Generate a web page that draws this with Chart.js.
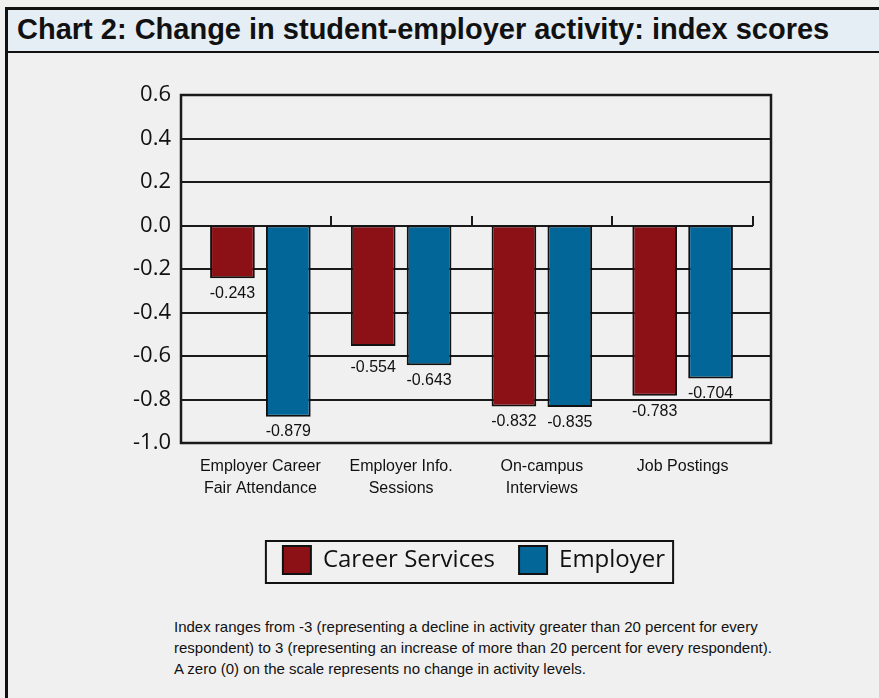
<!DOCTYPE html>
<html>
<head>
<meta charset="utf-8">
<script src="https://cdn.jsdelivr.net/npm/chart.js@4"></script>
<style>
  body { margin: 0; background: #f0f0f0; width: 879px; height: 698px; overflow: hidden; position: relative; }
  #frame { position: absolute; left: 5px; top: 7px; width: 900px; height: 720px; border-left: 3px solid #111; border-top: 3px solid #111; }
  #header { position: absolute; left: 8px; top: 10px; width: 880px; height: 41px; background: #e5edf5; border-bottom: 2px solid #111; }
  #title { position: absolute; left: 17px; top: 13px; font: bold 29px "Liberation Sans", Arial, sans-serif; color: #111; white-space: nowrap; }
  #chart { position: absolute; left: 0; top: 55px; }
  #note { position: absolute; left: 174px; top: 616px; font: 15px "Liberation Sans", sans-serif; line-height: 21px; color: #111; }
</style>
</head>
<body>
<div id="frame"></div>
<div id="header"></div>
<div id="title">Chart 2: Change in student-employer activity: index scores</div>
<canvas id="chart" width="879" height="540"></canvas>
<div id="note">Index ranges from -3 (representing a decline in activity greater than 20 percent for every<br>respondent) to 3 (representing an increase of more than 20 percent for every respondent).<br>A zero (0) on the scale represents no change in activity levels.</div>
<script>
const categories = [
    ['Employer Career', 'Fair Attendance'],
    ['Employer Info.', 'Sessions'],
    ['On-campus', 'Interviews'],
    ['Job Postings']
];
const careerServices = [-0.243, -0.554, -0.832, -0.783];
const employer = [-0.879, -0.643, -0.835, -0.704];
const yTicks = [0.6, 0.4, 0.2, 0.0, -0.2, -0.4, -0.6, -0.8, -1.0];

const labelFont = '"Liberation Sans", sans-serif';

// frame, gridlines and the zero axis with its upward ticks
const framePlugin = {
    id: 'frame',
    beforeDatasetsDraw(chart) {
        const ctx = chart.ctx;
        const area = chart.chartArea;
        const y = chart.scales.y;
        const x = chart.scales.x;
        const left = area.left - 9;
        const right = area.right + 18;
        ctx.save();
        ctx.strokeStyle = '#1a1a1a';
        ctx.lineWidth = 2;
        yTicks.forEach(v => {
            if (v === 0) return;
            const py = Math.round(y.getPixelForValue(v));
            ctx.beginPath();
            ctx.moveTo(left, py);
            ctx.lineTo(right, py);
            ctx.stroke();
        });
        const zy = Math.round(y.getPixelForValue(0));
        ctx.beginPath();
        ctx.moveTo(left, zy);
        ctx.lineTo(x.right, zy);
        const catW = (x.right - x.left) / categories.length;
        for (let i = 1; i <= categories.length; i++) {
            const px = Math.round(x.left + i * catW);
            ctx.moveTo(px, zy);
            ctx.lineTo(px, zy - 10);
        }
        ctx.stroke();
        ctx.lineWidth = 2.5;
        ctx.strokeRect(left, area.top, right - left, area.bottom - area.top);
        ctx.restore();
    },
    afterDatasetsDraw(chart) {
        const ctx = chart.ctx;
        const y = chart.scales.y;
        const grid = yTicks.map(v => Math.round(y.getPixelForValue(v)));
        ctx.save();
        ctx.font = '16px ' + labelFont;
        ctx.fillStyle = '#111';
        ctx.textAlign = 'center';
        ctx.textBaseline = 'top';
        chart.data.datasets.forEach((ds, di) => {
            chart.getDatasetMeta(di).data.forEach((bar, i) => {
                let top = bar.y + 7;
                // push the value below a gridline it would sit on
                grid.forEach(py => {
                    if (py >= top - 4 && py <= top + 13) top = py + 4;
                });
                ctx.fillText(ds.data[i].toFixed(3), bar.x, top);
            });
        });
        ctx.restore();
    },
    afterDraw(chart) {
        const boxes = chart.legend.legendHitBoxes;
        if (!boxes || !boxes.length) return;
        const first = boxes[0];
        const last = boxes[boxes.length - 1];
        const ctx = chart.ctx;
        ctx.save();
        ctx.strokeStyle = '#111';
        ctx.lineWidth = 2;
        ctx.strokeRect(first.left - 17, first.top - 5, last.left + last.width + 8 - (first.left - 17), first.height + 14);
        ctx.restore();
    }
};

new Chart(document.getElementById('chart'), {
    type: 'bar',
    data: {
        labels: categories,
        datasets: [{
            label: 'Career Services',
            data: careerServices,
            backgroundColor: '#8c1116',
            borderColor: '#111',
            borderWidth: 2,
            borderSkipped: false,
            categoryPercentage: 0.794,
            barPercentage: 0.8
        }, {
            label: 'Employer',
            data: employer,
            backgroundColor: '#036699',
            borderColor: '#111',
            borderWidth: 2,
            borderSkipped: false,
            categoryPercentage: 0.794,
            barPercentage: 0.8
        }]
    },
    options: {
        responsive: false,
        animation: false,
        layout: { padding: { left: 74, right: 5, top: 40, bottom: 11 } },
        scales: {
            x: {
                grid: { display: false, drawTicks: false },
                border: { display: false },
                afterFit: scale => { scale.height = 79; },
                ticks: {
                    color: '#111',
                    padding: 12,
                    font: { family: labelFont, size: 16, lineHeight: 1.4 }
                }
            },
            y: {
                min: -1,
                max: 0.6,
                afterFit: scale => { scale.width = 116; },
                grid: { display: false, drawTicks: false },
                border: { display: false },
                ticks: {
                    stepSize: 0.2,
                    padding: 19,
                    color: '#111',
                    font: { family: '"Open Sans", sans-serif', size: 22 },
                    callback: v => Number(v).toFixed(1)
                }
            },
            y2: {
                position: 'right',
                afterFit: scale => { scale.width = 121; },
                grid: { display: false, drawTicks: false },
                border: { display: false },
                ticks: { display: false }
            }
        },
        plugins: {
            tooltip: { enabled: false },
            legend: {
                position: 'bottom',
                labels: {
                    boxWidth: 28,
                    boxHeight: 28,
                    padding: 24,
                    color: '#111',
                    font: { family: '"Open Sans", sans-serif', size: 24 }
                }
            }
        }
    },
    plugins: [framePlugin]
});
</script>
</body>
</html>
